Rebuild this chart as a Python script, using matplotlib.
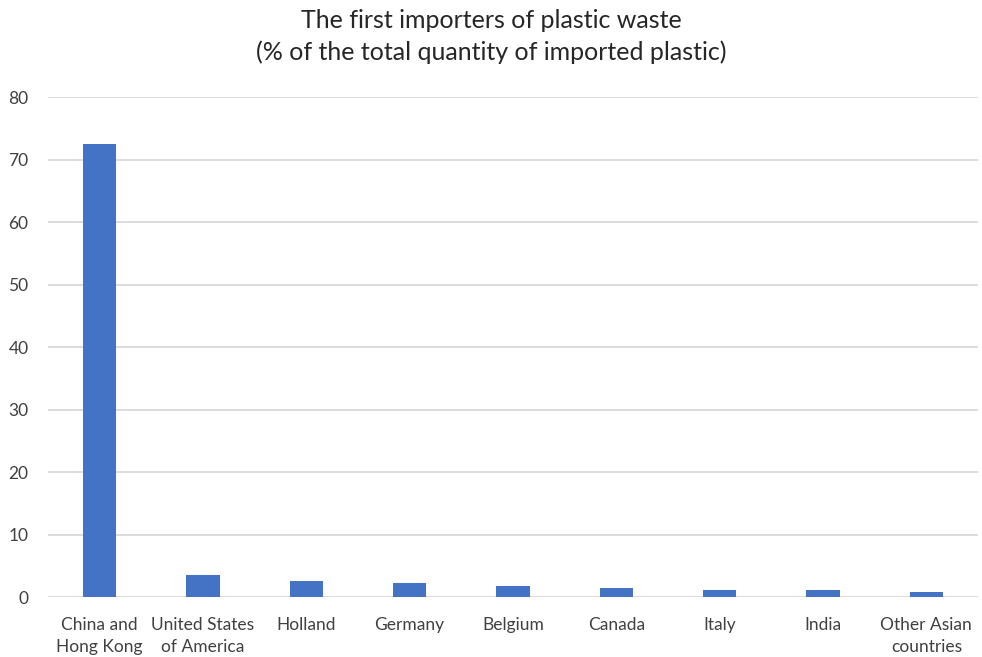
import matplotlib
matplotlib.use("Agg")
from matplotlib import pyplot as plt

# data
countries = ["China and\nHong Kong", "United States\nof America", "Holland", "Germany",
             "Belgium", "Canada", "Italy", "India", "Other Asian\ncountries"]
shares = [72.5, 3.5, 2.55, 2.25, 1.85, 1.55, 1.2, 1.2, 0.9]
y_ticks = [0, 10, 20, 30, 40, 50, 60, 70, 80]

plt.rcParams['font.family'] = ['Lato', 'DejaVu Sans']

fig = plt.figure(figsize=(9.82, 6.57), dpi=100)
ax = fig.add_axes([48 / 982, 1 - 597.3 / 657, 930 / 982, 500 / 657])

x = range(len(countries))
ax.bar(x, shares, width=0.32, color='#4472C4', zorder=3)

ax.set_xlim(-0.5, len(countries) - 0.5)
ax.set_ylim(0, 80)
ax.set_yticks(y_ticks)
ax.set_xticks(list(x))
ax.set_xticklabels(countries, fontsize=12.5, color='#404040', linespacing=1.45)
ax.tick_params(axis='y', labelsize=12.5, labelcolor='#404040', length=0, pad=14)
ax.tick_params(axis='x', length=0, pad=14)
ax.yaxis.grid(True, color='#D9D9D9', linewidth=1.3, zorder=0)
for s in ax.spines.values():
    s.set_visible(False)

fig.text(0.5, 1 - 20 / 657, "The first importers of plastic waste",
         fontsize=18, color='#262626', ha='center', va='center')
fig.text(0.5, 1 - 52 / 657, "(% of the total quantity of imported plastic)",
         fontsize=18, color='#262626', ha='center', va='center')

fig.savefig("out.png", dpi=100)
